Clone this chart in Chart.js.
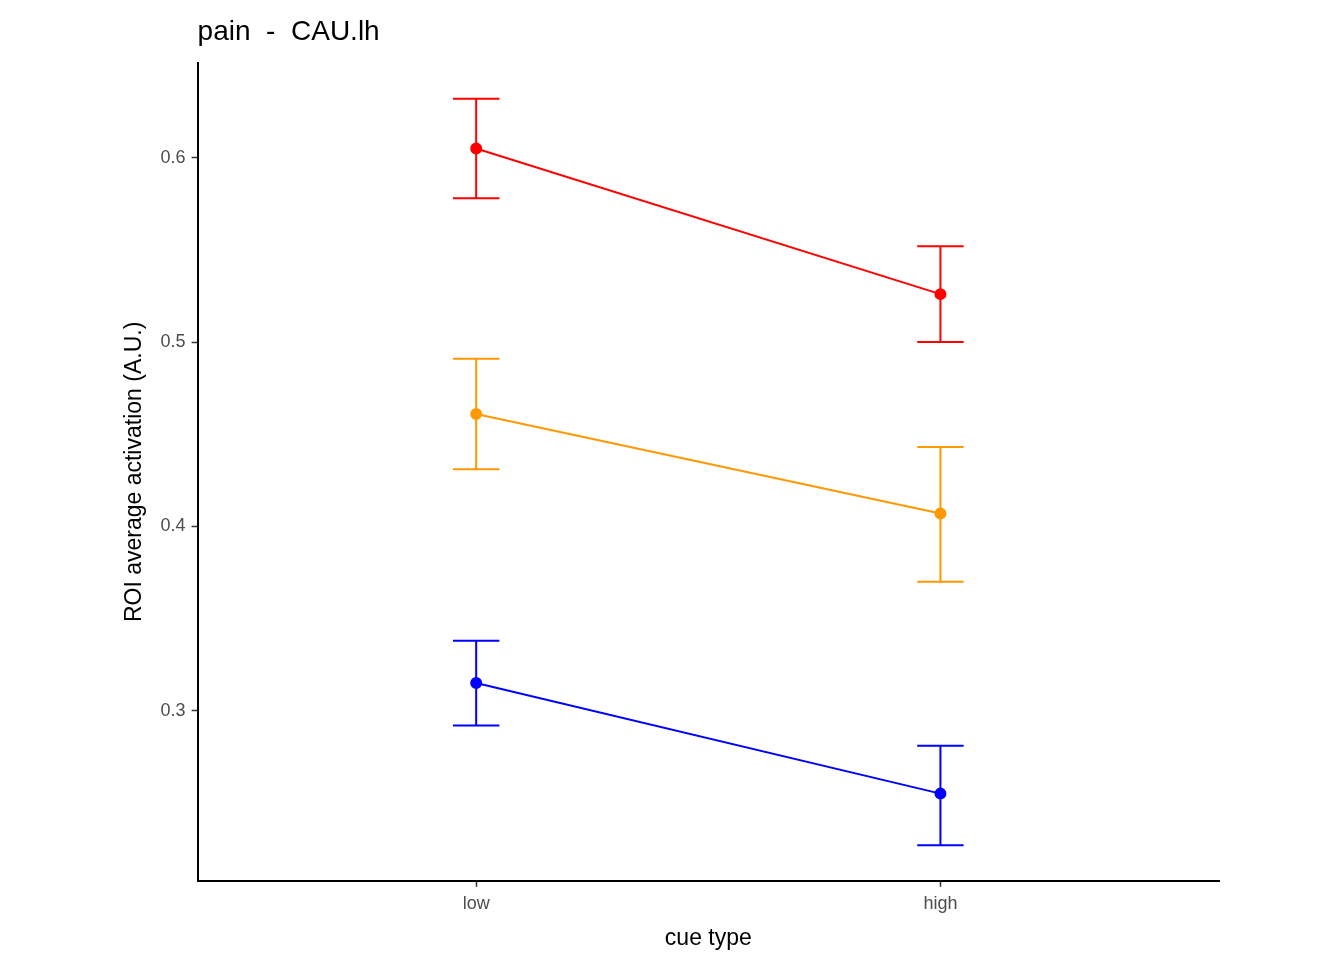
<!DOCTYPE html>
<html>
<head>
<meta charset="utf-8">
<script src="https://cdn.jsdelivr.net/npm/chart.js"></script>
<style>
  html, body { margin: 0; padding: 0; background: #fff; }
  #wrap { width: 1344px; height: 960px; }
</style>
</head>
<body>
<div id="wrap"><canvas id="c" width="1344" height="960"></canvas></div>
<script>
// data
const categories = ['low', 'high'];
const seriesColors = ['#ff0000', '#ff9900', '#0000ff'];
const seriesMean  = [[0.605, 0.526], [0.461, 0.407], [0.315, 0.255]];
const seriesUpper = [[0.632, 0.552], [0.491, 0.443], [0.338, 0.281]];
const seriesLower = [[0.578, 0.500], [0.431, 0.370], [0.292, 0.227]];
const yTicks = [0.3, 0.4, 0.5, 0.6];

const datasets = seriesMean.map((vals, s) => ({
  data: vals.map((v, i) => ({ x: i + 1, y: v, lo: seriesLower[s][i], hi: seriesUpper[s][i] })),
  borderColor: seriesColors[s],
  backgroundColor: seriesColors[s],
  borderWidth: 2,
  pointRadius: 5,
  pointHoverRadius: 5,
  showLine: true
}));

// error bars + title drawn with the chart's own scales
const extras = {
  id: 'extras',
  afterDatasetsDraw(chart) {
    const { ctx, scales: { x, y }, chartArea } = chart;
    chart.data.datasets.forEach(ds => {
      ctx.save();
      ctx.strokeStyle = ds.borderColor;
      ctx.lineWidth = 2;
      ds.data.forEach(p => {
        const px = x.getPixelForValue(p.x);
        const half = x.getPixelForValue(p.x + 0.05) - px;
        const yt = y.getPixelForValue(p.hi), yb = y.getPixelForValue(p.lo);
        ctx.beginPath();
        ctx.moveTo(px, yt); ctx.lineTo(px, yb);
        ctx.moveTo(px - half, yt); ctx.lineTo(px + half, yt);
        ctx.moveTo(px - half, yb); ctx.lineTo(px + half, yb);
        ctx.stroke();
      });
      ctx.restore();
    });
    ctx.save();
    ctx.fillStyle = '#000';
    ctx.font = '28px "Liberation Sans", Arial, sans-serif';
    ctx.textBaseline = 'alphabetic';
    ctx.fillText('pain  -  CAU.lh', chartArea.left, 40);
    ctx.restore();
  }
};

const axisGrid = { display: true, drawOnChartArea: false, drawTicks: true, tickLength: 6, tickColor: '#333', tickWidth: 1.5 };

new Chart(document.getElementById('c'), {
  type: 'scatter',
  data: { datasets },
  options: {
    responsive: false,
    animation: false,
    layout: { padding: { left: 117, right: 125, top: 63, bottom: 4 } },
    plugins: { legend: { display: false }, tooltip: { enabled: false } },
    scales: {
      x: {
        type: 'linear', min: 0.4, max: 2.6,
        afterBuildTicks: ax => { ax.ticks = categories.map((c, i) => ({ value: i + 1 })); },
        ticks: {
          callback: v => categories[v - 1],
          color: '#4d4d4d', font: { size: 18, family: 'Liberation Sans' }, padding: 6
        },
        grid: axisGrid,
        border: { color: '#000', width: 2 },
        title: { display: true, text: 'cue type', color: '#000', font: { size: 23, family: 'Liberation Sans' }, padding: { top: 4 } }
      },
      y: {
        min: 0.2077, max: 0.6514,
        afterBuildTicks: ax => { ax.ticks = yTicks.map(v => ({ value: v })); },
        ticks: {
          callback: v => v.toFixed(1),
          color: '#4d4d4d', font: { size: 18, family: 'Liberation Sans' }, padding: 6
        },
        grid: axisGrid,
        border: { color: '#000', width: 2 },
        title: { display: true, text: 'ROI average activation (A.U.)', color: '#000', font: { size: 23, family: 'Liberation Sans' }, padding: { bottom: 6 } }
      }
    }
  },
  plugins: [extras]
});
</script>
</body>
</html>
